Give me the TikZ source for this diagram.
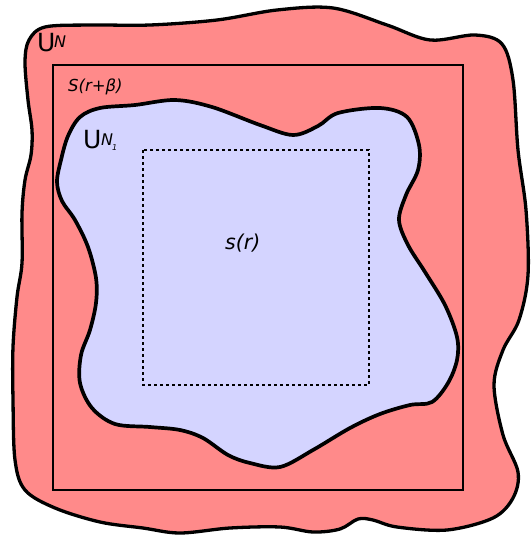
\documentclass[tikz,border=0pt]{standalone}
\usepackage{fontspec}
\setmainfont{DejaVu Sans}
\definecolor{outerred}{RGB}{255,138,138}
\definecolor{innerblue}{RGB}{212,212,255}
\tikzset{
  blob/.style={line width=3.3pt, line join=round},
  lbl/.style={inner sep=0pt, anchor=base west},
}
\begin{document}
\begin{tikzpicture}[x=1pt,y=-1pt]
\useasboundingbox (0,0) rectangle (530,535);
% outer blob U_N
\draw[blob, fill=outerred] plot[smooth cycle, tension=0.55] coordinates {
 (25,62) (29,40) (45,27) (90,25) (150,25) (217,20) (277,10) (333,8) (387,25) (430,40)
 (475,35) (502,44) (513,80) (518,150) (526,210) (528,275) (519,320) (503,350)
 (494,385) (503,435) (518,472) (513,498) (493,518) (447,530) (397,527) (373,520)
 (358,519) (340,529) (313,532) (280,527) (230,528) (180,533) (143,528) (100,522)
 (55,508) (25,490) (15,460) (13,400) (13,347) (17,297) (22,263) (22,213) (25,180)
 (31,155) (32,130) (28,100)};
% square S(r+beta)
\draw[line width=2.5pt] (53,65) rectangle (463,490);
% inner blob U_N1
\draw[blob, line width=3.7pt, fill=innerblue] plot[smooth cycle, tension=0.55] coordinates {
 (61,160) (68,136) (80,117) (100,108) (135,105) (175,100) (212,107) (260,125)
 (293,135) (318,126) (338,113) (380,108) (407,117) (419,145) (418,170) (406,195)
 (399,220) (408,245) (425,272) (445,305) (457,337) (457,360) (448,383) (432,402)
 (410,405) (380,414) (350,428) (313,450) (280,467) (250,463) (228,455) (203,438)
 (180,430) (150,427) (115,424) (92,408) (80,383) (81,355) (90,330) (96,303)
 (96,278) (88,247) (75,220) (62,201) (57,182)};
% dotted square s(r)
\draw[line width=2.8pt, dash pattern=on 3pt off 3pt] (143,150) rectangle (369,385);
% labels
\node[lbl, font=\fontsize{25}{25}\selectfont] (uN) at (37,52) {U};
\node[lbl, font=\fontsize{16}{16}\selectfont\itshape] (uNsub) at (54,48) {N};
\node[lbl, font=\fontsize{16.5}{16.5}\selectfont\itshape] (sbig) at (68,91) {S(r+β)};
\node[lbl, font=\fontsize{25}{25}\selectfont] (uN1) at (83,148) {U};
\node[lbl, font=\fontsize{16}{16}\selectfont\itshape] (uN1sub) at (101,145) {N};
\node[lbl, font=\fontsize{8}{8}\selectfont\itshape] (uN1one) at (112,150) {1};
\node[lbl, font=\fontsize{20.5}{20.5}\selectfont\itshape] (ssmall) at (225,249) {s(r)};
\end{tikzpicture}
\end{document}
